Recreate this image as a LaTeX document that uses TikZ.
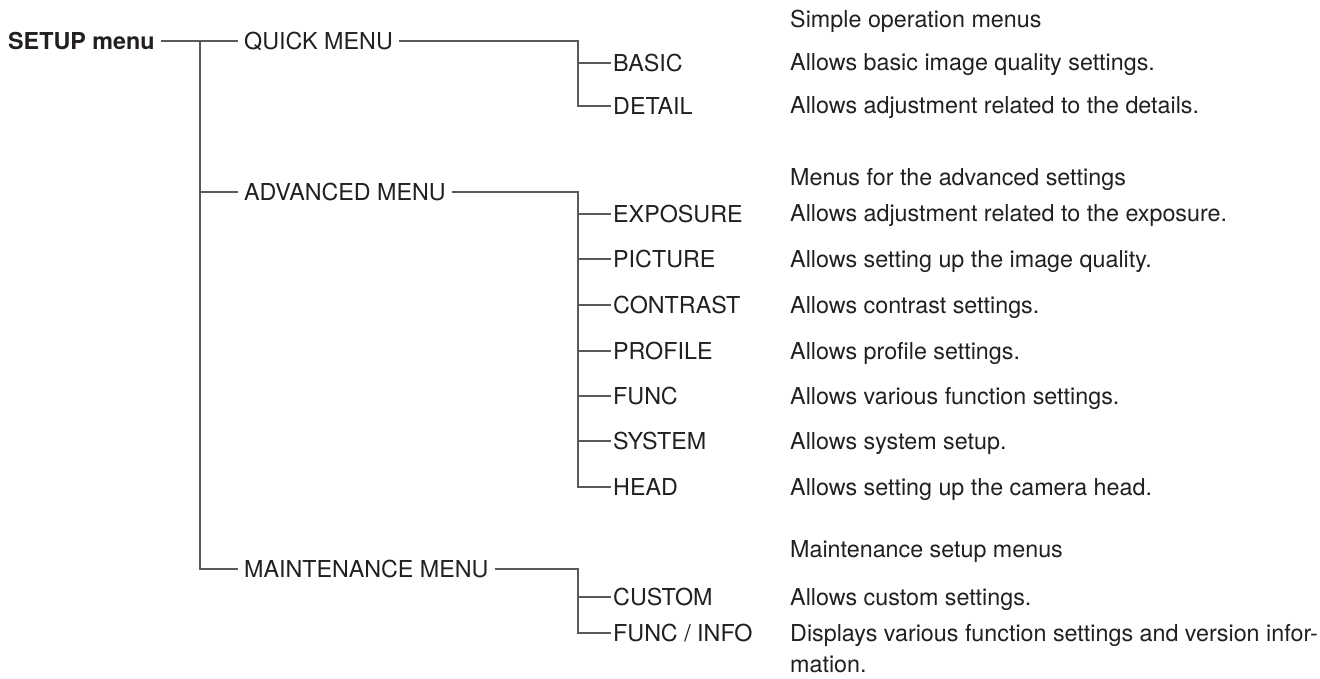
\documentclass[tikz,border=0pt]{standalone}
\usepackage{fontspec}
\setmainfont{TeX Gyre Heros}
\definecolor{ink}{HTML}{231F20}
\definecolor{wire}{HTML}{5A5A5A}
\begin{document}
\begin{tikzpicture}[x=1pt,y=-1pt,
  txt/.style={inner ysep=0pt, text depth=0pt, text=ink, font=\fontsize{23.3}{29}\selectfont},
  lvl/.style={txt, anchor=west, inner xsep=6pt},
  child/.style={txt, anchor=west, inner xsep=2pt},
  desc/.style={anchor=base west, inner sep=0pt, text=ink, font=\fontsize{23.3}{29}\selectfont},
  conn/.style={draw=wire, line width=1.4pt}]
\useasboundingbox (0,0) rectangle (1320,679);

% root and first level
\node[lvl] (setup) at (2,41) {\textbf{SETUP menu}};
\node[lvl] (quick) at (238,41) {QUICK MENU};
\node[lvl] (adv)   at (238,192) {ADVANCED MENU};
\node[lvl] (maint) at (238,569) {MAINTENANCE MENU};

% second level
\node[child] (basic)    at (611,63)  {BASIC};
\node[child] (detail)   at (611,106) {DETAIL};
\node[child] (exposure) at (611,214) {EXPOSURE};
\node[child] (picture)  at (611,259) {PICTURE};
\node[child] (contrast) at (611,305) {CONTRAST};
\node[child] (profile)  at (611,351) {PROFILE};
\node[child] (func)     at (611,396) {FUNC};
\node[child] (system)   at (611,441) {SYSTEM};
\node[child] (head)     at (611,487) {HEAD};
\node[child] (custom)   at (611,597) {CUSTOM};
\node[child] (funcinfo) at (611,633) {FUNC / INFO};

% descriptions
\node[desc] (dq)  at (790,28)  {Simple operation menus};
\node[desc] (d1)  at (790,71)  {Allows basic image quality settings.};
\node[desc] (d2)  at (790,114) {Allows adjustment related to the details.};
\node[desc] (da)  at (790,186) {Menus for the advanced settings};
\node[desc] (d3)  at (790,222) {Allows adjustment related to the exposure.};
\node[desc] (d4)  at (790,267) {Allows setting up the image quality.};
\node[desc] (d5)  at (790,313) {Allows contrast settings.};
\node[desc] (d6)  at (790,359) {Allows profile settings.};
\node[desc] (d7)  at (790,404) {Allows various function settings.};
\node[desc] (d8)  at (790,449) {Allows system setup.};
\node[desc] (d9)  at (790,495) {Allows setting up the camera head.};
\node[desc] (dm)  at (790,557) {Maintenance setup menus};
\node[desc] (d10) at (790,605) {Allows custom settings.};
\node[desc] (d11) at (790,641) {Displays various function settings and version infor-};
\node[desc] (d11b) at (790,672) {mation.};

% trunk and brackets
\coordinate (trunk) at (200,41);
\coordinate (qb) at (578,41);
\coordinate (ab) at (578,192);
\coordinate (mb) at (578,569);

\draw[conn] (setup.east) -- (quick.west);
\draw[conn] (trunk) |- (maint.west);
\draw[conn] (adv.west -| trunk) -- (adv.west);

\draw[conn] (quick.east) -- (qb) |- (detail.west);
\draw[conn] (basic.west -| qb) -- (basic.west);

\draw[conn] (adv.east) -- (ab) |- (head.west);
\foreach \n in {exposure,picture,contrast,profile,func,system}
  \draw[conn] (\n.west -| ab) -- (\n.west);

\draw[conn] (maint.east) -- (mb) |- (funcinfo.west);
\draw[conn] (custom.west -| mb) -- (custom.west);
\end{tikzpicture}
\end{document}
